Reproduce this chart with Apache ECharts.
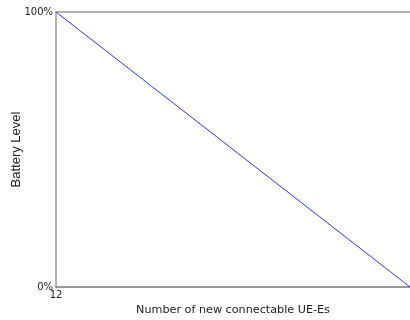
<!DOCTYPE html>
<html><head><meta charset="utf-8">
<script src="https://cdn.jsdelivr.net/npm/echarts@6/dist/echarts.min.js"></script>
<style>html,body{margin:0;padding:0;background:#fff}#c{width:410px;height:320px}</style>
</head><body><div id="c"></div>
<script>
const xValues = [12, 13];
const batteryLevel = [100, 0];
const xTickLabels = ['12'];
const yTickLabels = ['0%', '100%'];

const chart = echarts.init(document.getElementById('c'), null, {renderer: 'canvas'});
const font = 'DejaVu Sans';
chart.setOption({
  animation: false,
  grid: {left: 56, right: 0, top: 12, bottom: 33, containLabel: false, outerBoundsMode: 'none'},
  xAxis: [{
    type: 'value', min: 12, max: 13, interval: 1,
    name: 'Number of new connectable UE-Es', nameLocation: 'middle', nameGap: 18,
    nameMoveOverlap: false,
    nameTextStyle: {fontFamily: font, fontSize: 11.2, color: '#222'},
    axisLine: {show: true, lineStyle: {color: '#777', width: 1.5}},
    axisTick: {show: false}, splitLine: {show: false},
    axisLabel: {fontFamily: font, fontSize: 10, color: '#222', margin: 3,
      formatter: v => (v === xValues[0] ? xTickLabels[0] : '')}
  }, {
    type: 'value', position: 'top', min: 12, max: 13,
    axisLine: {show: true, lineStyle: {color: '#999', width: 1.5}},
    axisTick: {show: false}, axisLabel: {show: false}, splitLine: {show: false}
  }],
  yAxis: {
    type: 'value', min: 0, max: 100, interval: 100,
    name: 'Battery Level', nameLocation: 'middle', nameGap: 33,
    nameMoveOverlap: false,
    nameTextStyle: {fontFamily: 'Liberation Sans', fontSize: 13, color: '#222'},
    axisLine: {show: true, lineStyle: {color: '#999', width: 1.5}},
    axisTick: {show: false}, splitLine: {show: false},
    axisLabel: {fontFamily: font, fontSize: 10, color: '#222', margin: 3,
      formatter: v => (v === 0 ? yTickLabels[0] : yTickLabels[1])}
  },
  series: [{
    type: 'line', showSymbol: false,
    data: xValues.map((x, i) => [x, batteryLevel[i]]),
    lineStyle: {color: '#3333ff', width: 1}
  }]
});
</script></body></html>
